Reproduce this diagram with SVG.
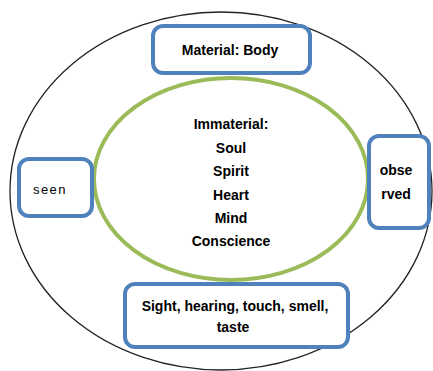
<svg xmlns="http://www.w3.org/2000/svg" width="433" height="371" viewBox="0 0 433 371">
<style>
.box{fill:#fff;stroke:#4f81bd;stroke-width:4}
.t{font-family:"Liberation Sans",Arial,sans-serif;font-weight:bold;font-size:14px;fill:#000;text-anchor:middle}
.r{font-family:"Liberation Sans",Arial,sans-serif;font-size:13px;fill:#000;text-anchor:middle}
</style>
<rect width="433" height="371" fill="#fff"/>
<g id="outer"><ellipse cx="221" cy="191" rx="211" ry="179" fill="none" stroke="#222" stroke-width="1.3"/></g>
<g id="inner">
<ellipse cx="231" cy="179" rx="137" ry="101" fill="none" stroke="#9bbb59" stroke-width="4"/>
<text class="t" x="231" y="129">Immaterial:</text>
<text class="t" x="231" y="153">Soul</text>
<text class="t" x="231" y="176">Spirit</text>
<text class="t" x="231" y="200">Heart</text>
<text class="t" x="231" y="223">Mind</text>
<text class="t" x="231" y="246">Conscience</text>
</g>
<g id="connectors"></g>
<g id="material">
<rect class="box" x="153" y="26" width="157" height="47" rx="10"/>
<text class="t" x="230" y="55">Material: Body</text>
</g>
<g id="seen">
<rect class="box" x="19" y="159" width="73" height="57" rx="10"/>
<text class="r" x="50" y="194" letter-spacing="1.5">seen</text>
</g>
<g id="observed">
<rect class="box" x="369" y="136" width="60" height="92" rx="10"/>
<text class="t" x="396" y="175" font-size="13">obse</text>
<text class="t" x="396" y="199" font-size="13">rved</text>
</g>
<g id="senses">
<rect class="box" x="125" y="284" width="223" height="63" rx="10"/>
<text class="t" x="235" y="311" font-size="12">Sight, hearing, touch, smell,</text>
<text class="t" x="233" y="332" font-size="12">taste</text>
</g>
</svg>
